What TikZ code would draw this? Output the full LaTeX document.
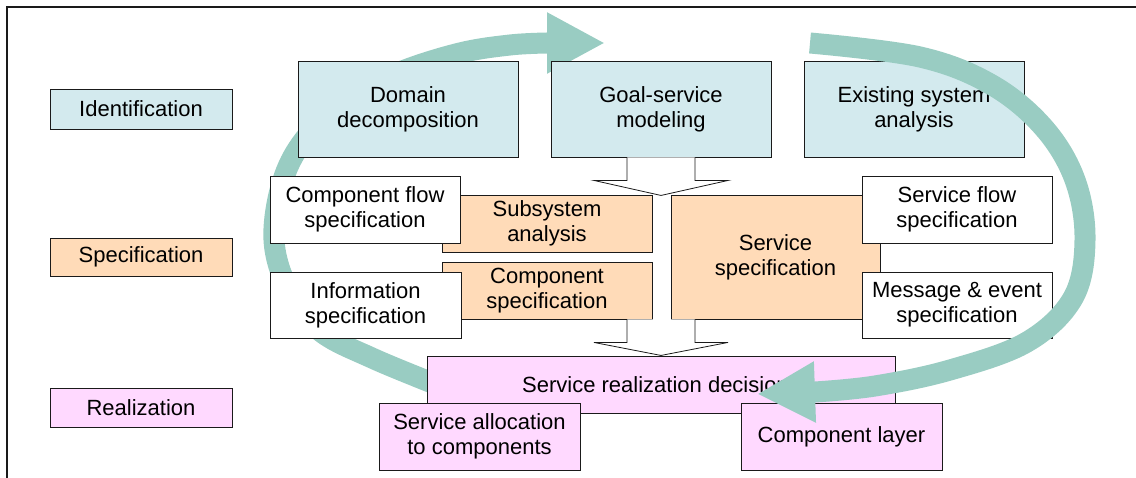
\documentclass[tikz,border=0pt]{standalone}
\usepackage{fontspec}
\setmainfont{Liberation Sans}
\usepackage{tikz}
\usetikzlibrary{arrows.meta, calc}
\definecolor{idFill}{HTML}{D3EAEE}
\definecolor{spFill}{HTML}{FFDBB8}
\definecolor{reFill}{HTML}{FFD9FF}
\definecolor{loopc}{HTML}{99CCC2}
\definecolor{ink}{HTML}{1A1A1A}
\tikzset{
  stage/.style={draw=ink, line width=0.9pt, align=center, inner sep=0pt,
    font=\fontsize{22}{25}\selectfont, text=black},
  hollow/.style={draw=ink, fill=white, line width=0.8pt, line join=miter},
  loop/.style={draw=loopc, line width=21pt, -{Triangle[length=58pt, width=57pt]}},
}

\begin{document}
\begin{tikzpicture}[x=1pt, y=-1pt]
  \useasboundingbox (0,0) rectangle (1136,478);
  % \stagebox{name}{left}{top}{right}{bottom}{fill}{label}
  \newcommand{\stagebox}[7]{\node[stage, fill=#6, minimum width={#4-#2}, minimum height={#5-#3}]
    (#1) at ({(#2+#4)/2},{(#3+#5)/2}) {#7};}
  \draw[ink, line width=1.2pt] (7,478) |- (1136,7);
  % ---- back half of the loop, behind the boxes
  \draw[loop] plot[smooth, tension=0.6] coordinates {(440,386) (372,358) (320,331) (289,291) (274,240)
    (283,180) (308,135) (352,97) (400,72) (460,53) (510,45) (547,43)} -- (605,43);
  % ---- phase labels
  \stagebox{ident}{50}{89}{232}{129}{idFill}{Identification}
  \stagebox{spec}{50}{238}{232}{276}{spFill}{Specification}
  \stagebox{real}{50}{388}{232}{427}{reFill}{Realization}
  % ---- identification
  \stagebox{domain}{298}{61}{518}{157}{idFill}{Domain\\decomposition}
  \stagebox{goal}{551}{61}{771}{157}{idFill}{Goal-service\\modeling}
  \stagebox{exist}{804}{61}{1024}{157}{idFill}{Existing system\\analysis}
  % ---- specification
  \stagebox{subsys}{442}{195}{652}{252}{spFill}{Subsystem\\analysis}
  \stagebox{compspec}{442}{262}{652}{319}{spFill}{Component\\specification}
  \stagebox{servspec}{671}{195}{880}{319}{spFill}{Service\\specification}
  \stagebox{compflow}{270}{176}{460}{243}{white}{Component flow\\specification}
  \stagebox{info}{270}{272}{461}{338}{white}{Information\\specification}
  \stagebox{servflow}{862}{176}{1052}{243}{white}{Service flow\\specification}
  \stagebox{msg}{862}{272}{1052}{338}{white}{Message \& event\\specification}
  % ---- block arrows between the phases
  \coordinate (g0) at (goal.south);
  \coordinate (g1) at (goal.south |- servspec.south);
  \foreach \c/\t in {g0/38, g1/36} {
    \draw[hollow] ($(\c)+(-34,0)$) -- ++(0,23) -- ++(-33,0) -- ($(\c)+(0,\t)$) -- ($(\c)+(67,23)$)
      -- ++(-33,0) -- ++(0,-23);
  }
  % ---- realization
  \stagebox{decis}{427}{356}{895}{413}{reFill}{Service realization decisions}
  \stagebox{alloc}{379}{403}{580}{470}{reFill}{Service allocation\\to components}
  \stagebox{layer}{741}{403}{942}{470}{reFill}{Component layer}
  % ---- front half of the loop, over the boxes
  \draw[loop] plot[smooth, tension=0.6] coordinates {(810,43) (920,57) (992,85) (1044,128) (1075,180)
    (1085,240) (1073,298) (1027,342) (950,370) (875,386) (815,392)} -- (757,394);
\end{tikzpicture}
\end{document}
